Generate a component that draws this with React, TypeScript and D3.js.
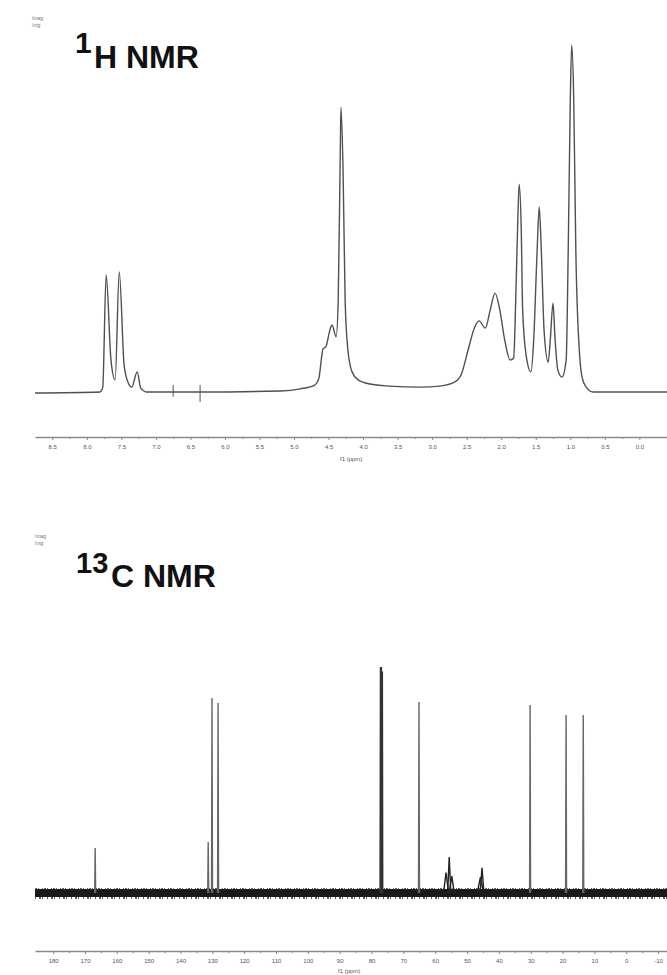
import React, { useEffect, useRef } from "react";
import * as d3 from "d3";

// 1H spectrum trace: [ppm, intensity]
const H_TRACE: [number, number][] = [
  [8.75, -0.3], [7.81, 0], [7.77, 1.2], [7.72, 33.7], [7.65, 9.2], [7.59, 3.5],
  [7.53, 34.6], [7.46, 7.8], [7.40, 2.6], [7.35, 1.4], [7.27, 5.8], [7.22, 1.2],
  [7.13, 0], [6.36, 0], [5.20, 0.3], [4.91, 0.9], [4.70, 2.0], [4.64, 4.0],
  [4.58, 12.4], [4.54, 13.0], [4.48, 17.9], [4.45, 19.3], [4.39, 15.9],
  [4.36, 26.5], [4.33, 69.7], [4.32, 82.1], [4.29, 64.0], [4.26, 26.5],
  [4.22, 12.1], [4.16, 5.8], [4.07, 3.5], [3.90, 2.3], [3.61, 1.7], [3.18, 1.4],
  [2.89, 1.7], [2.67, 2.9], [2.57, 5.5], [2.48, 12.1], [2.39, 18.4],
  [2.32, 20.5], [2.23, 18.4], [2.16, 23.6], [2.09, 28.5], [2.02, 23.6],
  [1.95, 15.0], [1.87, 9.2], [1.82, 9.8], [1.79, 26.5], [1.76, 49.6],
  [1.74, 59.9], [1.71, 46.7], [1.69, 23.6], [1.64, 10.7], [1.57, 5.8],
  [1.53, 15.0], [1.48, 40.9], [1.45, 53.3], [1.42, 40.9], [1.38, 17.9],
  [1.32, 8.6], [1.29, 15.0], [1.25, 25.6], [1.22, 15.0], [1.18, 6.3],
  [1.12, 4.3], [1.06, 9.2], [1.03, 40.9], [1.00, 84.1], [0.98, 100],
  [0.95, 84.1], [0.92, 40.9], [0.87, 12.1], [0.83, 4.3], [0.77, 1.4],
  [0.67, 0], [-0.40, 0],
];

// small vertical marks on the 1H baseline: [ppm, top, bottom]
const H_MARKS: [number, number, number][] = [
  [6.75, 2.0, -1.4],
  [6.36, 2.0, -2.9],
];

const H_TICKS = [8.5, 8.0, 7.5, 7.0, 6.5, 6.0, 5.5, 5.0, 4.5, 4.0, 3.5, 3.0, 2.5, 2.0, 1.5, 1.0, 0.5, 0.0];

// 13C peaks: [ppm, height, half line width in ppm]
const C_PEAKS: [number, number, number][] = [
  [166.8, 19.9, 0.15],
  [131.3, 22.6, 0.15],
  [130.1, 86.3, 0.15],
  [128.2, 84.1, 0.15],
  [77.2, 100, 0.12],
  [76.9, 100, 0.12],
  [76.6, 98, 0.12],
  [65.1, 84.5, 0.15],
  [56.6, 9.0, 0.8],
  [55.6, 15.9, 0.5],
  [54.8, 7.5, 0.8],
  [45.8, 7.0, 1.0],
  [45.3, 11.1, 0.6],
  [30.2, 83.2, 0.15],
  [18.9, 78.8, 0.15],
  [13.5, 78.8, 0.15],
];

const C_TICKS = [180, 170, 160, 150, 140, 130, 120, 110, 100, 90, 80, 70, 60, 50, 40, 30, 20, 10, 0, -10];

const W = 667;
const H = 975;

const hx = d3.scaleLinear().domain([8.75, -0.4]).range([35, 667]);
const hy = d3.scaleLinear().domain([0, 100]).range([392, 45]);
const cx = d3.scaleLinear().domain([185.7, -12.8]).range([35, 667]);
const cy = d3.scaleLinear().domain([0, 100]).range([893, 667]);

const font = "'Liberation Sans', Arial, sans-serif";

export default function App() {
  const hAxisRef = useRef<SVGGElement>(null);
  const cAxisRef = useRef<SVGGElement>(null);

  useEffect(() => {
    const drawAxis = (node: SVGGElement | null, scale: d3.ScaleLinear<number, number>, ticks: number[], fmt: (d: number) => string) => {
      const g = d3.select(node);
      g.selectAll("*").remove();
      const minor = d3.pairs(ticks).map(([a, b]) => (a + b) / 2);
      g.append("g")
        .call(d3.axisBottom(scale).tickValues(minor).tickFormat(() => "").tickSize(2).tickSizeOuter(0))
        .call((s) => s.select(".domain").remove());
      g.append("g")
        .call(d3.axisBottom(scale).tickValues(ticks).tickFormat((d) => fmt(d as number)).tickSize(3).tickSizeOuter(0).tickPadding(5))
        .call((s) => s.select(".domain").attr("stroke", "#8a8a8a").attr("stroke-width", 1.6))
        .call((s) => s.selectAll("text").attr("font-size", 6).attr("font-family", font).attr("fill", "#555"));
      g.selectAll(".tick line").attr("stroke", "#888");
    };
    drawAxis(hAxisRef.current, hx, H_TICKS, d3.format(".1f"));
    drawAxis(cAxisRef.current, cx, C_TICKS, (d) => String(d));
  }, []);

  const hLine = d3
    .line<[number, number]>()
    .x((d) => hx(d[0]))
    .y((d) => hy(d[1]))
    .curve(d3.curveMonotoneX);

  const cDomain = cx.domain();

  return (
    <svg width={W} height={H} style={{ position: "absolute", left: 0, top: 0, background: "#fff" }}>
      {/* 1H panel */}
      <text x={32} y={20} fontSize={5} fontFamily={font} fill="#777">Imag</text>
      <text x={32} y={27} fontSize={5} fontFamily={font} fill="#777">Intg</text>
      <text x={75} y={53} fontSize={30} fontWeight="bold" fontFamily={font} fill="#111">1</text>
      <text x={94} y={68} fontSize={32} fontWeight="bold" fontFamily={font} fill="#111">H NMR</text>

      <path d={hLine(H_TRACE) ?? ""} fill="none" stroke="#505050" strokeWidth={1.4} />
      {H_MARKS.map(([p, a, b], i) => (
        <line key={i} x1={hx(p)} x2={hx(p)} y1={hy(a)} y2={hy(b)} stroke="#555" strokeWidth={1} />
      ))}

      <g ref={hAxisRef} transform="translate(0,437)" />
      <text x={340} y={461} fontSize={6} fontFamily={font} fill="#555">f1 (ppm)</text>

      {/* 13C panel */}
      <text x={35} y={538} fontSize={5} fontFamily={font} fill="#777">Imag</text>
      <text x={35} y={545} fontSize={5} fontFamily={font} fill="#777">Intg</text>
      <text x={76} y={573} fontSize={29} fontWeight="bold" fontFamily={font} fill="#111">13</text>
      <text x={111} y={587} fontSize={32} fontWeight="bold" fontFamily={font} fill="#111">C NMR</text>

      <line x1={cx(cDomain[0])} x2={cx(cDomain[1])} y1={cy(0)} y2={cy(0)} stroke="#1a1a1a" strokeWidth={8} />
      <line x1={cx(cDomain[0])} x2={cx(cDomain[1])} y1={cy(0) - 4} y2={cy(0) - 4} stroke="#333" strokeWidth={1.5} strokeDasharray="2 1 1 3 1 1" />
      <line x1={cx(cDomain[0])} x2={cx(cDomain[1])} y1={cy(0) + 5} y2={cy(0) + 5} stroke="#333" strokeWidth={1.5} strokeDasharray="1 3 2 1 1 4" />
      {C_PEAKS.map(([p, h, hw], i) => (
        <path
          key={i}
          d={d3.line()([[cx(p + hw), cy(0)], [cx(p), cy(h)], [cx(p - hw), cy(0)]]) ?? ""}
          fill="none"
          stroke={h >= 98 ? "#333" : hw > 0.3 ? "#222" : "#666"}
          strokeWidth={1.4}
        />
      ))}

      <g ref={cAxisRef} transform="translate(0,951)" />
      <text x={338} y={973} fontSize={6} fontFamily={font} fill="#555">f1 (ppm)</text>
    </svg>
  );
}
